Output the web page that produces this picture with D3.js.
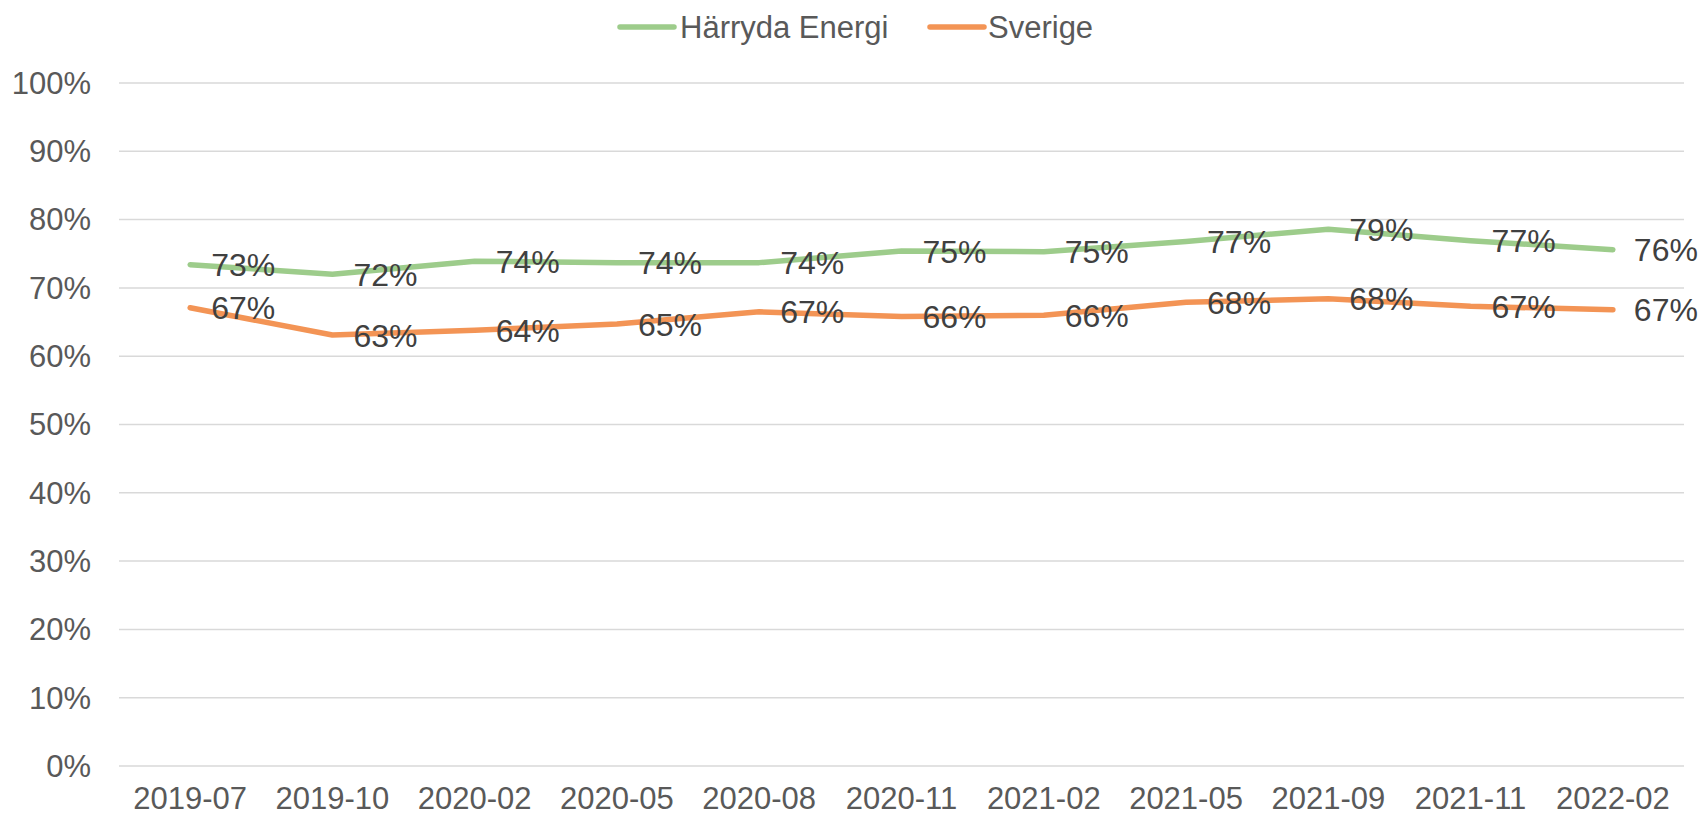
<!DOCTYPE html>
<html>
<head>
<meta charset="utf-8">
<script src="https://cdn.jsdelivr.net/npm/d3@7"></script>
<style>
  body { margin: 0; background: #fff; }
  svg { font-family: "Liberation Sans", Arial, sans-serif; }
</style>
</head>
<body>
<svg width="1702" height="818"></svg>
<script>
const months = ["2019-07", "2019-10", "2020-02", "2020-05", "2020-08", "2020-11",
  "2021-02", "2021-05", "2021-09", "2021-11", "2022-02"];
const harryda = [73.4, 72.0, 73.9, 73.7, 73.7, 75.4, 75.3, 76.8, 78.6, 76.9, 75.6];
const sverige = [67.1, 63.1, 63.8, 64.7, 66.5, 65.8, 66.0, 67.9, 68.4, 67.3, 66.8];
const yTicks = [0, 10, 20, 30, 40, 50, 60, 70, 80, 90, 100];

const series = [
  { name: "Härryda Energi", values: harryda, color: "#9DCC8B" },
  { name: "Sverige", values: sverige, color: "#F39455" },
];

const svg = d3.select("svg");
const margin = { left: 119, right: 18, top: 83, bottom: 52 };
const width = 1702, height = 818;

const x = d3.scalePoint()
  .domain(months)
  .range([margin.left, width - margin.right])
  .padding(0.5);

const y = d3.scaleLinear()
  .domain([0, 100])
  .range([height - margin.bottom, margin.top]);

// gridlines
svg.append("g")
  .selectAll("line")
  .data(yTicks)
  .join("line")
  .attr("x1", margin.left)
  .attr("x2", width - margin.right)
  .attr("y1", (d) => y(d))
  .attr("y2", (d) => y(d))
  .attr("stroke", "#d9d9d9")
  .attr("stroke-width", 1.5);

// y labels
svg.append("g")
  .selectAll("text")
  .data(yTicks)
  .join("text")
  .attr("x", 91)
  .attr("y", (d) => y(d))
  .attr("dy", "0.35em")
  .attr("text-anchor", "end")
  .attr("font-size", 31)
  .attr("fill", "#595959")
  .text((d) => d + "%");

// x labels
svg.append("g")
  .selectAll("text")
  .data(months)
  .join("text")
  .attr("x", (d) => x(d))
  .attr("y", 809)
  .attr("text-anchor", "middle")
  .attr("font-size", 31)
  .attr("fill", "#595959")
  .text((d) => d);

const line = d3.line()
  .x((d, i) => x(months[i]))
  .y((d) => y(d));

series.forEach((s) => {
  svg.append("path")
    .datum(s.values)
    .attr("d", line)
    .attr("fill", "none")
    .attr("stroke", s.color)
    .attr("stroke-width", 5.5)
    .attr("stroke-linecap", "round")
    .attr("stroke-linejoin", "round");
});

series.forEach((s) => {
  svg.append("g")
    .selectAll("text")
    .data(s.values)
    .join("text")
    .attr("x", (d, i) => x(months[i]) + 21)
    .attr("y", (d) => y(d))
    .attr("dy", "0.36em")
    .attr("font-size", 32)
    .attr("fill", "#404040")
    .text((d) => Math.round(d) + "%");
});

// legend
const legend = [
  { x: 620, textX: 680 },
  { x: 930, textX: 988 },
];
series.forEach((s, i) => {
  const g = svg.append("g");
  g.append("line")
    .attr("x1", legend[i].x)
    .attr("x2", legend[i].x + 54)
    .attr("y1", 27)
    .attr("y2", 27)
    .attr("stroke", s.color)
    .attr("stroke-width", 5.5)
    .attr("stroke-linecap", "round");
  g.append("text")
    .attr("x", legend[i].textX)
    .attr("y", 27)
    .attr("dy", "0.35em")
    .attr("font-size", 31)
    .attr("fill", "#595959")
    .text(s.name);
});
</script>
</body>
</html>
